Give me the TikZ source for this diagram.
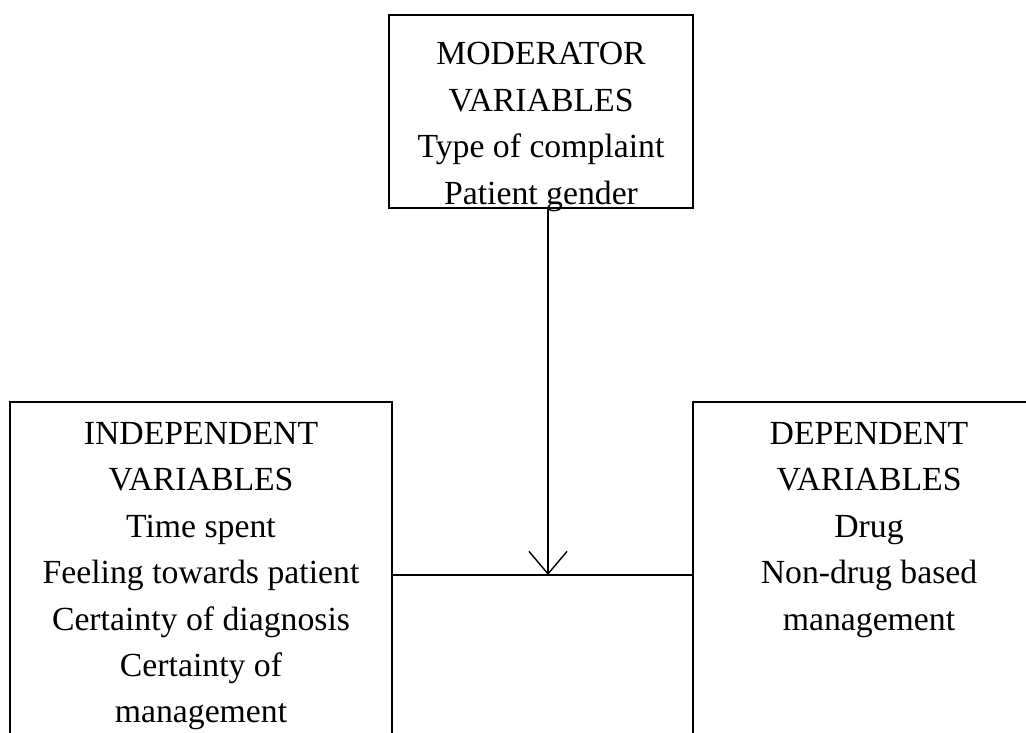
\documentclass[tikz,border=0pt]{standalone}
\usepackage{fontspec}
\setmainfont{Liberation Serif}
\usetikzlibrary{positioning,calc,arrows.meta}

\tikzset{
    varbox/.style={draw, line width=1.1pt, inner sep=0pt},
    vartext/.style={align=center, inner sep=0pt, anchor=north, font=\fontsize{24}{33}\selectfont},
    flecha/.style={line width=1pt, -{Straight Barb[length=16pt,width=27pt,line width=1pt]}}
}

\begin{document}
\begin{tikzpicture}
    % Marco de la figura
    \useasboundingbox (0,0) rectangle (25.65,18.325);
    \clip (0,0) rectangle (25.65,18.325);

    % Definimos las cajas
    \node[varbox, minimum width=7.6cm, minimum height=4.825cm] (moderator) at (13.525,15.5375) {};
    \node[varbox, minimum width=9.55cm, minimum height=8.65cm] (indep) at (5.025,3.95) {};
    \node[varbox, minimum width=8.8cm, minimum height=8.65cm] (dep) at (21.725,3.95) {};

    % Textos de las cajas
    \node[vartext, below=0.7cm of moderator.north] (modtext) {MODERATOR\\VARIABLES\\Type of complaint\\Patient gender};
    \node[vartext, below=0.525cm of indep.north] (indeptext) {INDEPENDENT\\VARIABLES\\Time spent\\Feeling towards patient\\Certainty of diagnosis\\Certainty of\\management};
    \node[vartext, below=0.525cm of dep.north] (deptext) {DEPENDENT\\VARIABLES\\Drug\\Non-drug based\\management};

    % Dibujamos las conexiones
    \coordinate (join) at (13.7,3.95);
    \draw[line width=1pt] (indep) -- (dep);
    \draw[flecha] (moderator.south -| join) -- (join);
\end{tikzpicture}
\end{document}
